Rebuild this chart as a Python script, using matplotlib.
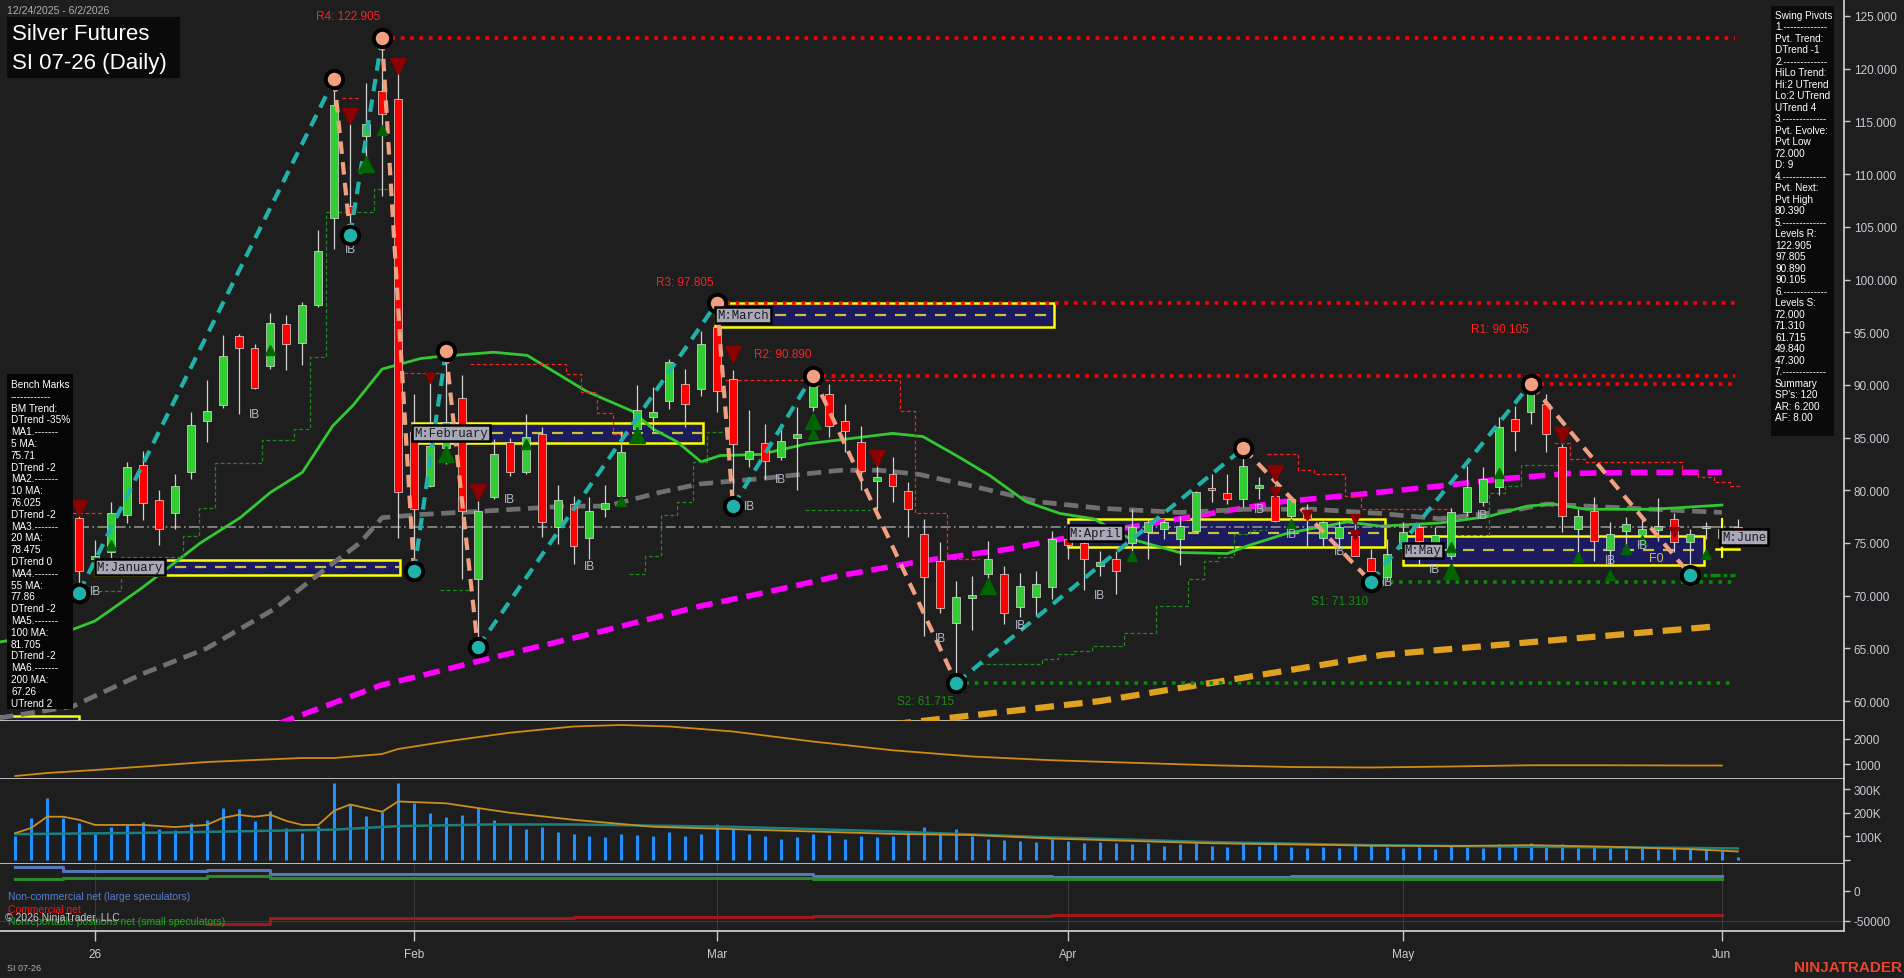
import matplotlib
matplotlib.use("Agg")
import matplotlib.pyplot as plt
from matplotlib.patches import Rectangle
import numpy as np

plt.rcParams['font.family'] = ['Liberation Sans', 'DejaVu Sans']

W, H = 1904, 979
BG = '#1e1e1e'
AXC = '#c8c8c8'
TXC = '#c8ccd4'

# ---------------- data ----------------
first_bar = -5   # bar index of 12/24/2025 (0 = first bar of January)
opens = [71.5, 77.0, 78.5, 72.0, 77.4, 73.5, 74.1, 77.7, 82.4, 79.1, 77.8, 81.7, 86.6, 88.1, 94.6,
         93.5, 91.8, 95.8, 94.0, 97.6, 105.8, 107.0, 113.6, 117.9, 117.1, 85.5, 80.4, 84.0, 88.8, 71.6,
         79.4, 84.6, 81.7, 85.3, 76.5, 78.7, 75.5, 78.2, 79.5, 85.8, 87.0, 88.5, 90.1, 89.6, 95.5,
         90.6, 83.0, 84.5, 83.2, 85.0, 87.9, 89.1, 86.6, 84.6, 80.9, 81.5, 79.9, 75.9, 73.3, 67.4,
         69.8, 72.1, 72.1, 68.9, 69.9, 70.8, 75.4, 75.0, 72.8, 73.5, 75.0, 76.0, 76.3, 75.4, 76.1,
         80.2, 79.7, 79.2, 80.2, 79.5, 77.6, 77.8, 75.5, 75.5, 75.7, 73.6, 71.8, 74.5, 76.5, 75.0,
         73.8, 77.9, 78.9, 80.3, 86.8, 87.4, 88.2, 84.1, 76.3, 78.0, 74.3, 76.1, 75.8, 76.2, 77.3,
         75.1, 76.4, 75.5, 76.5]
highs = [78.0, 79.5, 82.0, 77.0, 78.0, 75.3, 78.9, 82.7, 83.7, 80.0, 81.5, 87.4, 90.5, 94.7, 94.8,
         93.9, 96.8, 96.6, 97.9, 104.7, 119.0, 114.8, 118.6, 122.905, 119.7, 89.1, 90.3, 93.2, 90.9, 79.0,
         84.9, 85.0, 87.2, 86.0, 80.5, 79.5, 79.4, 80.5, 85.6, 90.0, 89.8, 92.5, 91.5, 95.1, 97.805,
         91.4, 87.6, 86.3, 85.8, 87.9, 90.89, 90.1, 88.2, 86.1, 82.5, 83.2, 80.8, 77.3, 75.1, 71.4,
         71.9, 75.2, 72.8, 72.2, 72.3, 76.1, 76.5, 76.5, 74.2, 74.2, 78.2, 77.2, 77.2, 77.6, 79.9,
         81.5, 81.5, 84.0, 81.3, 80.5, 79.4, 78.7, 77.1, 77.1, 77.5, 74.4, 75.4, 77.0, 76.8, 76.5,
         78.3, 82.3, 82.2, 87.0, 88.0, 90.105, 89.1, 84.4, 78.2, 79.4, 77.0, 77.5, 77.5, 79.3, 77.8,
         76.3, 77.0, 77.3, 77.3]
lows = [70.5, 74.0, 70.0, 71.0, 70.4, 72.0, 73.6, 76.9, 77.2, 74.8, 76.3, 81.1, 84.6, 87.8, 87.2,
        89.6, 91.5, 91.4, 91.9, 97.4, 102.9, 104.2, 111.0, 107.9, 75.5, 72.3, 80.3, 82.5, 71.6, 65.1,
        79.2, 81.4, 81.5, 75.6, 74.9, 73.0, 73.5, 77.5, 79.4, 85.3, 85.6, 87.7, 86.0, 88.9, 87.4,
        78.5, 82.2, 81.1, 82.9, 80.0, 87.5, 85.1, 83.6, 80.0, 78.2, 78.9, 75.6, 66.2, 68.4, 61.715,
        66.7, 71.6, 67.3, 68.0, 68.1, 69.7, 73.5, 70.5, 71.9, 70.2, 74.2, 73.5, 75.4, 72.9, 76.0,
        78.9, 78.7, 78.4, 79.2, 77.0, 76.8, 74.7, 74.7, 74.4, 73.8, 71.31, 71.5, 73.5, 72.8, 74.0,
        73.5, 77.6, 78.5, 79.6, 83.7, 86.3, 83.6, 76.0, 73.3, 73.3, 72.8, 74.7, 75.1, 75.2, 74.1,
        72.0, 75.4, 73.7, 75.6]
closes = [77.0, 78.5, 72.0, 76.0, 72.3, 73.8, 77.8, 82.2, 78.8, 76.3, 80.4, 86.2, 87.5, 92.7, 93.5,
          89.7, 95.9, 93.9, 97.6, 102.7, 116.6, 106.2, 114.8, 115.7, 79.8, 78.2, 84.2, 86.5, 78.0, 78.0,
          83.4, 81.7, 85.1, 77.0, 79.1, 74.7, 78.0, 78.8, 83.6, 87.6, 87.4, 92.2, 88.2, 93.9, 89.4,
          84.4, 83.7, 82.8, 84.7, 85.3, 89.9, 86.1, 85.6, 81.8, 81.3, 80.4, 78.2, 71.8, 68.8, 69.9,
          70.1, 73.5, 68.4, 70.9, 71.1, 75.4, 74.8, 73.5, 73.2, 72.3, 76.5, 77.0, 77.0, 76.6, 79.8,
          80.0, 79.2, 82.3, 80.5, 77.1, 79.2, 77.3, 77.0, 76.5, 73.8, 72.3, 74.0, 76.0, 75.2, 75.8,
          77.9, 80.3, 81.1, 86.0, 85.6, 89.1, 85.3, 77.6, 77.6, 75.2, 75.9, 76.8, 76.3, 76.6, 75.1,
          75.9, 76.6, 76.3, 76.0]

volume_k = [100, 178, 261, 178, 157, 109, 139, 146, 161, 130, 126, 157, 170, 222, 217, 165, 209, 135,
            113, 143, 326, 235, 187, 204, 326,
            240, 200, 180, 190, 220, 170, 150, 130, 140, 120, 110, 100, 95, 110, 105, 100, 120, 100, 110,
            150, 130, 110, 100, 90, 95, 110, 105, 90, 100, 95, 100, 120, 140, 110, 130, 100, 90, 85, 80, 75, 90,
            80, 70, 75, 70, 65, 70, 60, 65, 70, 60, 55, 70, 60, 65, 55, 50, 55, 50, 60, 65, 55,
            50, 55, 45, 60, 55, 50, 65, 60, 70, 60, 65, 50, 55, 50, 45, 50, 45, 55, 50, 45,
            39, 13]

volavg_bars = [-5, -4, -3, -2, -1, 0, 3, 5, 7, 8, 9, 10, 11, 12, 13, 14, 15, 16, 18, 19, 22, 26, 30, 35,
               40, 45, 50, 55, 60, 65, 70, 75, 80, 85, 90, 95, 100, 103]
volavg_k = [113, 135, 183, 183, 170, 148, 148, 139, 148, 178, 191, 183, 191, 165, 148, 148, 209, 235, 204,
            248, 240, 200, 170, 140, 130, 120, 110, 105, 90, 80, 70, 65, 60, 58, 62, 55, 45, 35]
oi_bars = [-5, 0, 5, 10, 15, 19, 25, 30, 40, 50, 60, 70, 80, 90, 100, 103]
oi_k = [109, 112, 116, 122, 128, 143, 150, 150, 140, 120, 95, 75, 62, 55, 50, 48]

ind_bars = [-5, -3, 0, 7, 13, 15, 18, 19, 22, 26, 30, 33, 36, 40, 45, 50, 55, 60, 65, 70, 75, 80, 85,
            90, 95, 100, 102]
ind_vals = [520, 640, 760, 1080, 1240, 1240, 1400, 1600, 1900, 2250, 2500, 2560, 2500, 2300, 1900, 1550,
            1300, 1150, 1050, 950, 880, 860, 900, 950, 950, 940, 940]

cot_bars = [-5, -2, 7, 11, 30, 45, 60, 75, 90, 102]
cot_noncomm = [39500, 32000, 34000, 27000, 27000, 24000, 22000, 24000, 24000, 24000]
cot_nonrep = [20000, 21700, 24000, 21700, 21000, 20000, 20000, 20000, 20000, 20000]
cot_comm_bars = [7, 11, 30, 45, 60, 75, 90, 102]
cot_comm = [-56000, -45500, -44500, -42000, -41000, -41000, -41000, -41000]

ma20_bars = [-6, -1.4, 0, 3, 6.6, 9.1, 11, 13, 14.9, 16.2, 18, 20.4, 21.6, 25, 27.1, 30.8, 33.7, 35, 36.5,
             38, 39.2, 41.7, 44.6, 50, 51.9, 54, 56.1, 58.4, 60.5, 62.6, 64.9, 68, 71, 72.2, 74.7, 78.5,
             80.6, 84.3, 87.3, 89.8, 91.4, 93.5, 97.7, 102]
ma20_vals = [65.6, 66.8, 67.6, 70.8, 75.0, 77.4, 79.8, 81.7, 86.1, 88.1, 91.5, 92.5, 92.7, 93.1, 92.8, 89.4,
             87.5, 85.8, 84.6, 82.7, 83.3, 83.4, 84.4, 85.4, 85.1, 83.3, 81.4, 78.9, 77.8, 77.3, 75.4, 74.1,
             74.0, 74.7, 75.9, 77.0, 76.6, 76.9, 77.5, 78.5, 78.7, 78.2, 78.2, 78.6]
ma55_bars = [-6, -1.4, 3, 7, 11.2, 14.5, 16.6, 18, 20.4, 24.1, 29.6, 32.1, 35.4, 37.9, 41.7, 46.7, 49.2,
             51.7, 55, 59.2, 63, 68, 72.2, 76.4, 80.6, 84.3, 86.2, 89.3, 91, 93.5, 97.7, 102]
ma55_vals = [58.4, 59.5, 62.6, 65.0, 68.7, 72.6, 75.0, 77.4, 77.7, 78.0, 78.5, 78.5, 79.8, 80.6, 81.1, 81.9,
             81.9, 81.5, 80.4, 78.9, 78.3, 77.9, 78.2, 78.2, 77.8, 77.3, 77.6, 78.2, 78.7, 78.5, 78.2, 77.9]
ma100_bars = [10, 17.9, 20.4, 25.4, 31.7, 37.9, 41.7, 46.7, 51.9, 57.2, 61.3, 68, 74.3, 78.5, 84.3, 88.3,
              92.5, 96.7, 102]
ma100_vals = [57.0, 61.5, 62.4, 64.3, 66.6, 69.0, 70.2, 71.9, 73.3, 74.4, 75.6, 77.3, 78.9, 79.5, 80.4, 81.1,
              81.6, 81.7, 81.7]
ma200_bars = [50, 63, 80.8, 101.7]
ma200_vals = [57.8, 60.0, 64.4, 67.1]
last_line = 76.5

pivot_bars = [-1, 15, 16, 18, 20, 22, 24, 39, 40, 45, 54, 72, 80, 90, 100]
pivot_vals = [70.3, 119.0, 104.2, 122.905, 72.3, 93.2, 65.1, 97.805, 78.5, 90.89, 61.715, 84.0, 71.31,
              90.105, 72.0]
pivot_kind = ['L', 'H', 'L', 'H', 'L', 'H', 'L', 'H', 'L', 'H', 'L', 'H', 'L', 'H', 'L']

res_names = ['R4: 122.905', 'R3: 97.805', 'R2: 90.890', 'R1: 90.105']
res_levels = [122.905, 97.805, 90.89, 90.105]
res_from = [18, 39, 45, 90]
sup_names = ['S1: 71.310', 'S2: 61.715']
sup_levels = [71.31, 61.715]
sup_from = [80, 54]

month_names = ['M:January', 'M:February', 'M:March', 'M:April', 'M:May']
month_start = [0, 19.9, 38.9, 61, 82]
month_end = [19.1, 38.1, 60.1, 80.9, 100.9]
month_low = [72.0, 84.5, 95.5, 74.6, 72.9]
month_high = [73.4, 86.4, 97.8, 77.3, 75.7]

ib_bars = [0, 16, 10, 26, 31, 41, 43, 53, 58, 63, 73, 75, 78, 81, 84, 87, 95, 97]
ib_vals = [70.4, 102.9, 87.2, 79.2, 72.8, 78.5, 81.1, 66.0, 67.2, 70.1, 78.2, 75.9, 74.2, 71.3, 72.5, 77.7,
           73.4, 74.8]

dn_bars = [-1, 16, 19, 21, 24, 40, 49, 74, 74, 76, 79, 79, 92, 99]
dn_vals = [78.3, 115.5, 120.3, 90.7, 79.8, 92.9, 83.1, 81.6, 79.8, 77.7, 77.3, 75.8, 85.2, 76.0]
dn_big = [1, 1, 1, 0, 1, 1, 1, 1, 0, 0, 0, 0, 1, 0]
up_bars = [1, 11, 17, 18, 22, 27, 33, 34, 45, 45, 56, 65, 75, 85, 85, 88, 93, 95, 96, 97, 100, 101]
up_vals = [74.8, 93.3, 111.0, 114.2, 83.4, 84.4, 79.0, 85.2, 86.6, 85.3, 70.9, 73.8, 76.8, 72.3, 74.6, 81.6,
           73.7, 72.0, 74.4, 75.3, 71.5, 74.0]
up_big = [0, 0, 1, 0, 1, 0, 0, 1, 1, 0, 1, 0, 0, 1, 0, 0, 0, 0, 0, 0, 0, 0]

red_steps = [([-2.2, 0.5], [77.8, 77.8]),
             ([15.5, 16.6], [117.2, 117.2]),
             ([19.4, 21.6], [91.1, 91.1]),
             ([23.5, 29.5, 30.5, 31.5, 32.5, 33.5], [92.0, 91.0, 89.3, 87.3, 85.3, 85.3]),
             ([39.5, 50.5, 51.4, 53.4, 55.4], [90.5, 87.5, 77.8, 73.5, 73.5]),
             ([73.5, 75.4, 76.4, 78.4, 79.4, 85.0], [83.4, 81.9, 81.5, 79.5, 78.2, 78.2]),
             ([91.5, 92.5, 93.5, 99.5, 100.5, 101.5, 102.5, 103.2], [84.5, 83.0, 82.7, 81.6, 81.3, 80.8, 80.4, 80.4])]
green_steps = [([-0.2, 1.6, 5.5, 6.5, 7.5, 10.5, 12.5, 13.5, 14.5, 17.5, 18.5],
                [70.4, 73.7, 75.7, 78.3, 82.6, 84.8, 85.8, 92.6, 106.4, 108.6, 108.6]),
               ([21.6, 23.6], [70.5, 70.5]),
               ([33.5, 34.5, 35.5, 36.5, 37.5, 38.4, 39.5], [72.1, 73.8, 77.7, 78.9, 82.7, 85.5, 85.5]),
               ([44.5, 48.6], [78.1, 78.1]),
               ([55.5, 59.4, 60.4, 61.4, 62.5, 64.5, 66.5, 68.5, 69.5, 70.4, 71.4, 72.4, 73.5],
                [63.5, 64.0, 64.5, 64.8, 65.2, 66.5, 69.0, 71.6, 73.3, 73.7, 75.9, 76.2, 76.2]),
               ([85.4, 87.4, 88.4, 89.4, 91.8], [75.8, 79.7, 80.4, 82.4, 82.4])]

month_ticks = [0, 20, 39, 61, 82, 102]
month_labels = ['26', 'Feb', 'Mar', 'Apr', 'May', 'Jun']

swing_text = ["Swing Pivots", "1.-------------", "Pvt. Trend:", "DTrend -1", "2.-------------",
              "HiLo Trend:", "Hi:2 UTrend", "Lo:2 UTrend", "UTrend 4", "3.-------------", "Pvt. Evolve:",
              "Pvt Low", "72.000", "D: 9", "4.-------------", "Pvt. Next:", "Pvt High", "80.390",
              "5.-------------", "Levels R:", "122.905", "97.805", "90.890", "90.105", "6.-------------",
              "Levels S:", "72.000", "71.310", "61.715", "49.840", "47.300", "7.-------------", "Summary",
              "SP's: 120", "AR: 6.200", "AF: 8.00"]
bench_text = ["Bench Marks", "------------", "BM Trend:", "DTrend -35%", "MA1.-------", "5 MA:", "75.71",
              "DTrend -2", "MA2.-------", "10 MA:", "76.025", "DTrend -2", "MA3.-------", "20 MA:", "78.475",
              "DTrend 0", "MA4.-------", "55 MA:", "77.86", "DTrend -2", "MA5.-------", "100 MA:", "81.705",
              "DTrend -2", "MA6.-------", "200 MA:", "67.26", "UTrend 2"]

# ---------------- layout helpers ----------------
X0_PX, BAR_PX = 95.0, 15.95
PLOT_R = 1844
XL = (-X0_PX / BAR_PX, (PLOT_R - X0_PX) / BAR_PX)

fig = plt.figure(figsize=(W / 100, H / 100), dpi=100, facecolor=BG)


def fy(y):
    return 1 - y / H


def make_ax(top, bottom, ylim):
    ax = fig.add_axes([0, fy(bottom), PLOT_R / W, (bottom - top) / H])
    ax.set_facecolor(BG)
    ax.set_xlim(*XL)
    ax.set_ylim(*ylim)
    for s in ['top', 'left']:
        ax.spines[s].set_visible(False)
    for s in ['right', 'bottom']:
        ax.spines[s].set_color(AXC)
        ax.spines[s].set_linewidth(1.3)
    ax.yaxis.tick_right()
    ax.tick_params(axis='y', colors=AXC, labelcolor=TXC, length=4, width=1, labelsize=8.5, pad=3)
    ax.tick_params(axis='x', bottom=False, labelbottom=False)
    return ax


p_top = 125 + 17 / 10.54
p_bot = 125 - 705 / 10.54
ax = make_ax(0, 722, (p_bot, p_top))
ax2 = make_ax(722, 780, (400, 2720))
ax3 = make_ax(780, 865, (-18.3, 343.5))
ax4 = make_ax(865, 932, (-67200, 44500))

ax.set_yticks(np.arange(60, 126, 5))
ax.set_yticklabels([f"{v:.3f}" for v in np.arange(60, 126, 5)])
ax2.set_yticks([1000, 2000])
ax2.set_yticklabels(['1000', '2000'])
ax3.set_yticks([0, 100, 200, 300])
ax3.set_yticklabels(['', '100K', '200K', '300K'])
ax4.set_yticks([-50000, 0])
ax4.set_yticklabels(['-50000', '0'])

ax4.tick_params(axis='x', bottom=True, labelbottom=True, colors=AXC, labelcolor=TXC, length=7,
                width=1, labelsize=8.5, pad=5)
ax4.set_xticks(month_ticks)
ax4.set_xticklabels(month_labels)
for m in month_ticks:
    ax4.axvline(m, color='#3a3a3a', lw=0.8, zorder=0)
ax4.axhline(-50000, color='#3a3a3a', lw=0.8, zorder=0)

bars = np.arange(first_bar, first_bar + len(opens))

# ---------------- main panel ----------------
for nm, s, e, lo, hi in zip(month_names, month_start, month_end, month_low, month_high):
    ax.add_patch(Rectangle((s, lo), e - s, hi - lo, facecolor='#1b1b5e', edgecolor='#ffff00', lw=1.8,
                           zorder=2))
    ax.plot([s, e], [(lo + hi) / 2] * 2, color='#c8c040', lw=1.6, ls=(0, (5, 4)), zorder=2.1)
ax.add_patch(Rectangle((XL[0], p_bot - 2), -1 - XL[0], 58.6 - p_bot + 2, facecolor='#1b1b5e',
                       edgecolor='#ffff00', lw=1.8, zorder=2, clip_on=True))

ax.plot(ma200_bars, ma200_vals, color='#e0a020', lw=4.5, ls=(0, (3, 1.6)), zorder=3)
ax.plot(ma100_bars, ma100_vals, color='#ff00ff', lw=4.0, ls=(0, (3, 1.6)), zorder=3)
ax.plot(ma55_bars, ma55_vals, color='#707070', lw=3.4, ls=(0, (3, 1.6)), zorder=3)
ax.plot(ma20_bars, ma20_vals, color='#32c832', lw=2.0, zorder=3)
ax.plot([-1, 103], [last_line, last_line], color='#909090', lw=1.2, ls=(0, (6, 2, 1, 2)), zorder=3)

for xs, ys in red_steps:
    ax.plot(xs, ys, drawstyle='steps-post', color='#ff2020', lw=0.9, ls=(0, (3, 2)), zorder=3)
for xs, ys in green_steps:
    ax.plot(xs, ys, drawstyle='steps-post', color='#1f8a1f', lw=0.9, ls=(0, (3, 2)), zorder=3)

for nm, lv, st in zip(res_names, res_levels, res_from):
    ax.plot([st, 102.8], [lv, lv], color='#ff0000', lw=2.6, ls=(0, (1, 1.6)), zorder=3.2)
for nm, lv, st in zip(sup_names, sup_levels, sup_from):
    ax.plot([st, 102.8], [lv, lv], color='#0a8a0a', lw=2.6, ls=(0, (1, 1.6)), zorder=3.2)
ax.plot([100, 102.8], [72.0, 72.0], color='#0a8a0a', lw=2.4, ls=(0, (3, 1, 1, 1)), zorder=3.2)

lab_pos = {'R4: 122.905': (15.9, 125.0), 'R3: 97.805': (37.0, 99.8), 'R2: 90.890': (43.1, 92.9),
           'R1: 90.105': (88.1, 95.3), 'S1: 71.310': (78.0, 69.5), 'S2: 61.715': (52.1, 60.0)}
for nm in res_names:
    ax.text(*lab_pos[nm], nm, color='#ff2020', fontsize=8.5, ha='center', va='center', zorder=6)
for nm in sup_names:
    ax.text(*lab_pos[nm], nm, color='#1a8a1a', fontsize=8.5, ha='center', va='center', zorder=6)

o = np.array(opens); h = np.array(highs); l = np.array(lows); c = np.array(closes)
up = c >= o
ax.vlines(bars, l, h, color='#d0d0d0', lw=0.9, zorder=4)
body_lo = np.minimum(o, c)
body_h = np.maximum(np.abs(c - o), 0.12)
ax.bar(bars[up], body_h[up], bottom=body_lo[up], width=0.5, color='#32cd32', edgecolor='#e0e0e0',
       lw=0.5, zorder=4.2)
ax.bar(bars[~up], body_h[~up], bottom=body_lo[~up], width=0.5, color='#ff0000', edgecolor='#e0e0e0',
       lw=0.5, zorder=4.2)

for k in range(len(pivot_bars) - 1):
    col = '#20b2aa' if pivot_kind[k] == 'L' else '#f0a080'
    ax.plot(pivot_bars[k:k + 2], pivot_vals[k:k + 2], color=col, lw=3.0, ls=(0, (3, 2)), zorder=5)
for b, v, kd in zip(pivot_bars, pivot_vals, pivot_kind):
    ax.plot(b, v, 'o', ms=12.5, mfc='#20b2aa' if kd == 'L' else '#f0a080', mec='black', mew=2.8,
            zorder=5.5)

for b, v, big in zip(dn_bars, dn_vals, dn_big):
    ax.plot(b, v, 'v', ms=12 if big else 7, color='#8b0000', zorder=5.2)
for b, v, big in zip(up_bars, up_vals, up_big):
    ax.plot(b, v, '^', ms=12 if big else 7, color='#006400', zorder=5.2)

for b, v in zip(ib_bars, ib_vals):
    ax.text(b, v, 'IB', color='#b8bccc', fontsize=8.5, ha='center', va='center', zorder=5.3)
ax.text(97.9, 73.6, 'F0', color='#c8c060', fontsize=9, ha='center', va='center', zorder=5.3)

mono = ['Liberation Mono', 'DejaVu Sans Mono']
for nm, s, lo, hi in zip(month_names, month_start, month_low, month_high):
    ax.text(s + 0.1, (lo + hi) / 2, nm, family=mono, fontsize=8.8, color='#1a1a1a', ha='left', va='center',
            zorder=6, bbox=dict(boxstyle='square,pad=0.15', fc='#a8a8b8', ec='black', lw=1.8))
ax.text(102.0, 75.6, 'M:June', family=mono, fontsize=8.8, color='#1a1a1a', ha='left', va='center',
        zorder=6, bbox=dict(boxstyle='square,pad=0.15', fc='#a8a8b8', ec='black', lw=1.8))
ax.plot([101.6, 103.1], [74.4, 74.4], color='#ffff00', lw=1.8, zorder=5.8)
ax.plot([102, 102], [73.7, 77.3], color='#ffff00', lw=1.5, zorder=5.8)

ax2.plot(ind_bars, ind_vals, color='#d08a10', lw=1.3)

ax3.vlines(bars, 0, volume_k, color='#1e90ff', lw=2.2)
ax3.plot(oi_bars, oi_k, color='#1a8080', lw=1.8)
ax3.plot(volavg_bars, volavg_k, color='#c8901e', lw=1.3)

ax4.plot(cot_bars, cot_noncomm, drawstyle='steps-post', color='#5577bb', lw=2.2)
ax4.plot(cot_bars, cot_nonrep, drawstyle='steps-post', color='#2a8a2a', lw=2.2)
ax4.plot(cot_comm_bars, cot_comm, drawstyle='steps-post', color='#a01818', lw=2.2)

fig.text(7 / W, fy(11), '12/24/2025 - 6/2/2026', color='#b0b0b0', fontsize=7.5, va='center', ha='left')
fig.patches.append(Rectangle((7 / W, fy(79)), 173 / W, 61 / H, transform=fig.transFigure,
                             facecolor='#0a0a0a', edgecolor='none', zorder=10))
fig.text(12 / W, fy(35), 'Silver Futures', color='white', fontsize=16, va='center', ha='left', zorder=11)
fig.text(12 / W, fy(64), 'SI 07-26 (Daily)', color='white', fontsize=16, va='center', ha='left', zorder=11)

fig.patches.append(Rectangle((1771 / W, fy(437)), 63 / W, 430 / H, transform=fig.transFigure,
                             facecolor='#0a0a0a', edgecolor='none', zorder=10))
for k, t in enumerate(swing_text):
    fig.text(1775 / W, fy(16 + 11.49 * k), t, color='white', fontsize=7.2, va='center', ha='left', zorder=11)

fig.patches.append(Rectangle((7 / W, fy(710)), 66 / W, 335 / H, transform=fig.transFigure,
                             facecolor='#050505', edgecolor='none', zorder=10))
for k, t in enumerate(bench_text):
    fig.text(11 / W, fy(385 + 11.8 * k), t, color='white', fontsize=7.2, va='center', ha='left', zorder=11)

fig.text(8 / W, fy(897), 'Non-commercial net (large speculators)', color='#5580d0', fontsize=7.5,
         va='center', ha='left', zorder=11)
fig.text(8 / W, fy(910), 'Commercial net', color='#ff1010', fontsize=7.5, va='center', ha='left', zorder=11)
fig.text(8 / W, fy(922), 'Nonreportable positions net (small speculators)', color='#22aa22', fontsize=7.5,
         va='center', ha='left', zorder=11)
fig.text(5 / W, fy(918), '\u00a9 2026 NinjaTrader, LLC', color='#c8c8c8', fontsize=7.5, va='center',
         ha='left', zorder=12)

fig.text(7 / W, fy(969), 'SI 07-26', color='#b0b0b0', fontsize=6.5, va='center', ha='left')
fig.text(1902 / W, fy(968), 'NINJATRADER', color='#e8452c', fontsize=11, fontweight='bold', va='center',
         ha='right')

fig.savefig('out.png', dpi=100, facecolor=BG)
